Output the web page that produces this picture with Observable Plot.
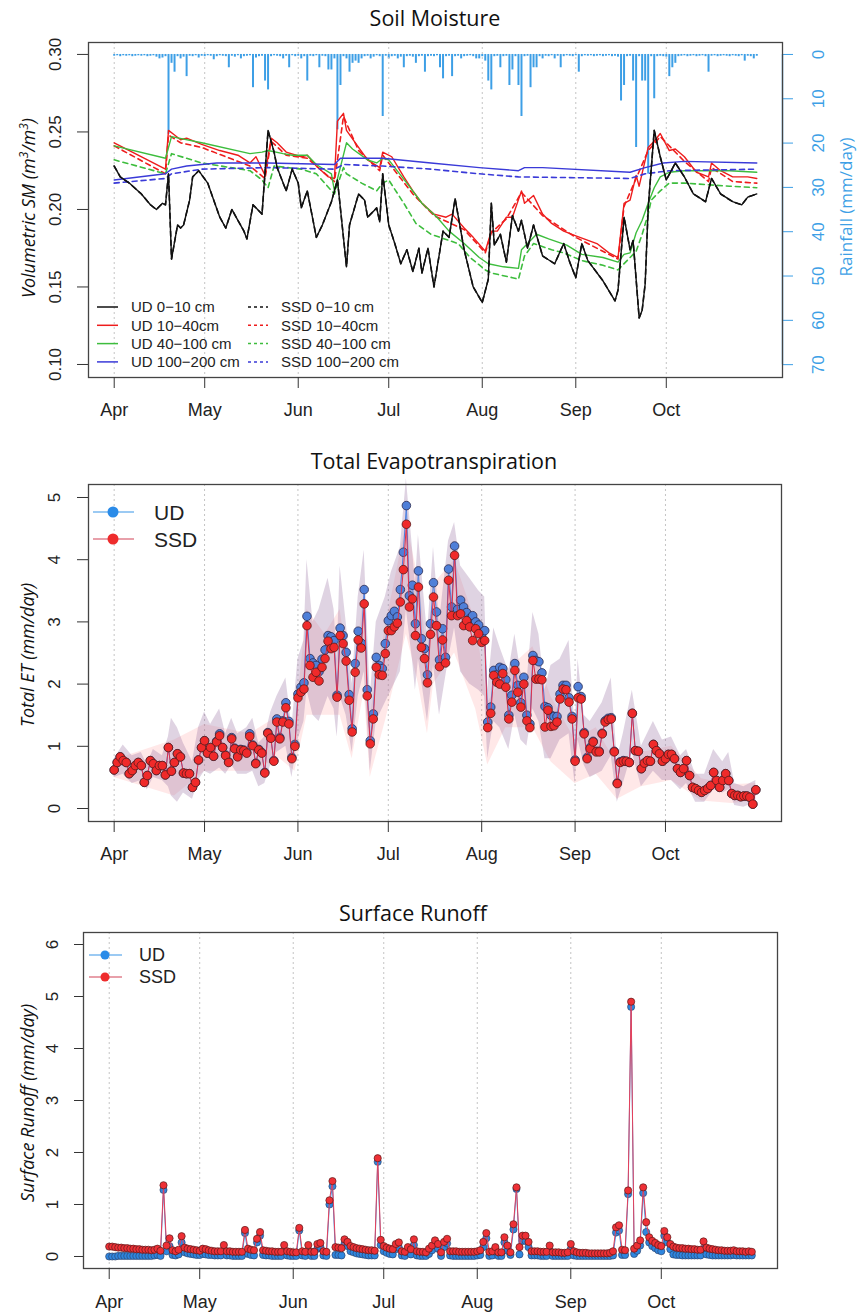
<!DOCTYPE html>
<html><head><meta charset="utf-8">
<script src="https://cdn.jsdelivr.net/npm/d3@7"></script>
<script src="https://cdn.jsdelivr.net/npm/@observablehq/plot@0.6"></script>
<style>
body{margin:0;background:#fff;}
#wrap{position:relative;width:859px;height:1316px;overflow:hidden;font-family:"Liberation Sans",Arial,sans-serif;}
#wrap svg{position:absolute;}
.title{position:absolute;font-family:"Open Sans",sans-serif;font-size:21.5px;color:#111;transform:translate(-50%,-50%);white-space:nowrap;}
.ylab{position:absolute;font-family:"Open Sans",sans-serif;font-style:italic;font-size:18px;color:#111;transform:translate(-50%,-50%) rotate(-90deg);white-space:nowrap;}
.ylab sup{font-size:12px;}
</style></head>
<body><div id="wrap"></div>
<script>
// ---------------- DATA ----------------
const startDate = "2019-04-01";
// Soil moisture series: [day since Apr 1, m3/m3]
const ud_0_10 = [[0,.228],[2,.221],[5,.217],[9,.21],[12,.203],[14,.2],[16,.204],[17,.203],[18,.223],[19,.168],[21,.19],[22,.188],[23,.19],[25,.206],[26,.221],[28,.225],[31,.217],[33,.206],[35,.195],[37,.188],[39,.2],[41,.193],[43,.186],[44,.181],[46,.203],[48,.199],[49,.197],[51,.251],[53,.237],[54,.227],[57,.212],[59,.226],[61,.217],[62,.201],[64,.212],[67,.182],[69,.19],[72,.205],[74,.219],[77,.163],[78,.19],[81,.21],[83,.206],[84,.195],[87,.201],[88,.192],[89,.223],[91,.19],[93,.178],[95,.165],[97,.174],[99,.16],[101,.175],[102,.159],[104,.175],[106,.15],[109,.186],[111,.182],[113,.207],[116,.174],[119,.15],[122,.14],[124,.155],[125,.204],[126,.177],[128,.184],[130,.166],[132,.196],[134,.186],[135,.193],[137,.175],[139,.19],[142,.17],[146,.165],[149,.178],[151,.166],[153,.156],[155,.178],[157,.167],[162,.154],[166,.141],[167,.148],[169,.195],[171,.174],[172,.18],[174,.13],[175,.135],[176,.152],[177,.201],[179,.251],[181,.234],[183,.219],[186,.23],[189,.221],[192,.21],[196,.205],[198,.22],[201,.21],[205,.205],[208,.203],[210,.208],[213,.21]];
const ssd_0_10 = ud_0_10; // the two 0-10 cm curves coincide in the figure
const ud_10_40 = [[0,.243],[17,.226],[18,.251],[20,.248],[22,.245],[24,.246],[29,.242],[35,.238],[41,.235],[45,.230],[47,.234],[50,.222],[52,.246],[54,.243],[57,.237],[62,.234],[64,.235],[67,.228],[71,.221],[73,.220],[74,.257],[76,.262],[77,.251],[81,.240],[84,.232],[88,.227],[89,.237],[92,.234],[96,.221],[99,.212],[102,.204],[106,.197],[110,.195],[112,.197],[116,.188],[119,.182],[123,.173],[125,.186],[127,.186],[130,.195],[132,.195],[135,.212],[136,.204],[139,.209],[142,.197],[145,.191],[149,.186],[153,.183],[160,.178],[164,.172],[167,.169],[169,.204],[171,.206],[173,.222],[174,.215],[177,.240],[179,.244],[181,.249],[184,.238],[186,.239],[189,.234],[193,.224],[197,.221],[198,.230],[201,.225],[205,.221],[210,.221],[213,.220]];
const ssd_10_40 = [[0,.241],[17,.223],[18,.248],[22,.243],[29,.240],[45,.228],[50,.220],[52,.244],[57,.235],[64,.233],[73,.218],[76,.260],[81,.238],[88,.225],[89,.235],[99,.210],[106,.196],[116,.187],[123,.172],[125,.185],[130,.194],[135,.211],[142,.196],[153,.182],[167,.168],[169,.202],[173,.220],[177,.238],[181,.247],[189,.231],[197,.218],[198,.227],[205,.218],[213,.217]];
const ud_40_100 = [[0,.241],[17,.233],[19,.247],[29,.243],[45,.236],[49,.237],[51,.238],[56,.236],[59,.235],[64,.235],[67,.229],[72,.223],[73,.212],[77,.243],[79,.239],[84,.232],[87,.230],[89,.233],[91,.232],[97,.217],[102,.204],[107,.195],[111,.186],[116,.178],[121,.169],[124,.165],[129,.163],[134,.162],[135,.174],[140,.184],[144,.181],[150,.177],[155,.171],[162,.169],[167,.166],[169,.171],[171,.172],[173,.185],[175,.193],[177,.204],[179,.214],[181,.221],[184,.224],[189,.225],[204,.225],[213,.224]];
const ssd_40_100 = [[0,.232],[17,.223],[19,.236],[29,.230],[45,.225],[49,.219],[51,.214],[53,.228],[62,.226],[67,.223],[73,.210],[76,.227],[77,.223],[82,.217],[87,.212],[89,.217],[91,.219],[96,.204],[100,.191],[105,.184],[114,.178],[118,.169],[123,.161],[125,.159],[132,.156],[134,.155],[136,.170],[139,.178],[145,.174],[149,.172],[155,.167],[162,.164],[167,.161],[170,.167],[173,.173],[175,.184],[177,.197],[178,.206],[181,.212],[184,.217],[189,.217],[204,.215],[213,.214]];
const ud_100_200 = [[0,.219],[17,.223],[19,.226],[24,.228],[34,.230],[51,.230],[73,.229],[75,.233],[89,.233],[105,.230],[121,.227],[134,.225],[136,.227],[142,.227],[171,.224],[176,.227],[182,.230],[189,.231],[213,.230]];
const ssd_100_200 = [[0,.217],[17,.220],[19,.223],[29,.226],[51,.227],[73,.226],[76,.229],[89,.228],[105,.226],[121,.223],[134,.221],[171,.220],[176,.223],[184,.225],[213,.226]];
const smTicks = [0.10, 0.15, 0.20, 0.25, 0.30];

// Daily rainfall (mm/day), Apr 1 .. Oct 31
const rain = [
0.4,0.3,0.5,0.3,0.4,0.3,0.5,0.4,0.3,0.4,
0.3,0.5,0.4,0.3,0.6,1.0,0.8,0.5,18,2,
4,0.5,1,0.6,5,0.4,0.5,0.3,0.8,0.4,
0.5,0.3,0.4,1.2,0.5,0.3,0.4,0.5,3,0.4,
0.6,0.3,1,0.5,0.4,0.3,7.5,0.8,0.5,0.4,
6,8,0.5,0.3,0.4,0.5,1,0.4,3,0.3,
0.5,0.4,1,0.5,6,0.4,0.5,0.3,3,0.4,
0.5,3.5,3.5,1,17,7,0.5,1,4,2,
1.5,2,1,0.5,0.4,1,0.6,0.3,0.5,14,
0.4,1,0.5,0.4,1,0.6,3,0.5,0.4,0.6,
2,0.5,0.4,4,0.5,0.4,0.5,0.3,3,5.5,
0.5,0.4,5,0.5,0.4,1,0.5,0.4,0.3,0.5,
1,1,0.5,1.5,6,8,0.5,0.4,3,0.5,
0.4,7,3.5,0.5,7,14,0.5,0.4,7.5,3,
3,0.5,1,0.4,0.5,0.3,1,0.4,3,0.5,
0.3,0.4,0.5,0.3,4,0.5,0.3,0.4,0.3,0.5,
0.4,0.3,0.5,0.4,0.3,0.5,0.4,0.6,10.5,7,
0.5,0.4,6,21,0.5,6,6,27,0.5,10,
0.5,0.4,0.5,0.6,5,3,2,0.5,0.4,0.3,
0.5,0.4,0.3,0.5,0.4,0.3,0.5,4,0.4,0.3,
0.5,0.4,0.3,0.4,0.5,0.3,0.4,0.5,0.3,1.5,
0.4,0.5,1,0.4];
const rainTicks = [0,10,20,30,40,50,60,70];

// Total ET (mm/day), daily Apr 1 .. Oct 31
const etUD = [
0.62,0.74,0.83,0.77,0.74,0.56,0.61,0.69,0.74,0.69,
0.42,0.53,0.77,0.72,0.61,0.69,0.69,0.54,0.98,0.60,
0.74,0.88,0.83,0.57,0.56,0.56,0.34,0.42,0.78,0.98,
1.09,0.89,0.98,0.84,1.08,1.20,0.98,0.86,0.75,1.14,
0.97,0.84,0.95,0.94,0.90,1.20,1.02,0.73,0.95,0.90,
0.58,1.22,1.14,0.77,1.44,1.14,1.41,1.70,1.40,0.82,
1.03,1.84,1.95,2.02,3.09,2.41,2.34,2.30,2.20,2.40,
2.55,2.78,2.76,2.70,1.82,2.90,2.78,2.51,1.83,1.28,
2.33,2.85,2.66,3.52,1.91,1.09,1.52,2.43,2.30,2.25,
2.65,3.02,3.10,3.17,3.08,3.52,4.12,4.87,3.42,3.59,
2.97,3.82,2.73,2.57,2.15,2.97,3.63,3.16,2.39,2.89,
2.43,3.85,3.24,4.22,3.20,3.35,3.24,3.15,3.05,3.10,
3.00,2.95,2.80,2.86,1.39,1.63,2.22,2.15,2.27,2.25,
2.07,1.50,1.82,2.33,1.98,1.70,2.11,1.50,1.36,2.46,
2.38,2.36,2.18,1.64,1.62,1.50,1.48,1.48,1.84,1.98,
1.98,1.78,1.48,0.78,1.96,1.80,1.22,0.82,0.98,1.08,
0.92,0.92,1.21,1.41,1.45,1.46,0.92,0.41,0.75,0.77,
0.76,0.74,1.53,0.93,0.92,0.64,0.73,0.77,0.76,1.03,
0.93,0.88,0.76,0.80,0.87,0.87,0.80,0.64,0.58,0.64,
0.77,0.53,0.34,0.32,0.29,0.26,0.29,0.32,0.37,0.58,
0.45,0.34,0.45,0.56,0.45,0.24,0.21,0.21,0.19,0.20,
0.20,0.18,0.07,0.30];
const etSSD = [
0.62,0.74,0.83,0.77,0.74,0.56,0.61,0.69,0.74,0.69,
0.42,0.53,0.77,0.72,0.61,0.69,0.69,0.54,0.98,0.60,
0.74,0.88,0.83,0.57,0.56,0.56,0.34,0.42,0.78,0.98,
1.09,0.89,0.98,0.84,1.07,1.17,0.98,0.85,0.74,1.12,
0.96,0.83,0.94,0.93,0.89,1.16,1.01,0.72,0.94,0.89,
0.57,1.21,1.13,0.76,1.39,1.12,1.39,1.62,1.36,0.80,
1.00,1.78,1.87,1.92,2.94,2.30,2.11,2.19,2.05,2.27,
2.41,2.69,2.57,2.59,1.79,2.78,2.65,2.37,1.74,1.23,
2.19,2.71,2.58,3.29,1.81,1.04,1.44,2.27,2.15,2.14,
2.49,2.86,2.86,2.92,2.98,3.32,3.84,4.57,3.24,3.37,
2.78,3.56,2.59,2.41,2.02,2.80,3.40,2.94,2.28,2.71,
2.34,3.67,3.10,4.07,3.10,3.13,2.94,3.02,2.92,2.70,
2.89,2.81,2.67,2.70,1.30,1.53,2.14,2.03,2.00,2.17,
1.95,1.44,1.71,2.22,1.87,1.63,2.00,1.41,1.30,2.38,
2.08,2.08,2.07,1.31,1.58,1.32,1.33,1.39,1.76,1.92,
1.91,1.71,1.44,0.76,1.78,1.76,1.20,0.80,0.96,1.07,
0.91,0.91,1.20,1.39,1.43,1.44,0.91,0.40,0.74,0.76,
0.76,0.74,1.53,0.93,0.92,0.64,0.73,0.77,0.76,1.03,
0.93,0.88,0.76,0.80,0.87,0.87,0.80,0.64,0.58,0.64,
0.77,0.53,0.34,0.32,0.29,0.26,0.29,0.32,0.37,0.58,
0.45,0.34,0.45,0.56,0.45,0.24,0.21,0.21,0.19,0.20,
0.20,0.18,0.07,0.30];
// ET uncertainty bands
const udBandDays = [0,3,6,9,11,13,16,18,19,21,23,26,28,30,32,35,37,39,41,44,46,48,50,52,54,57,59,61,63,64,66,68,71,73,74,75,77,79,81,83,85,87,90,92,95,97,99,100,101,104,106,108,111,113,115,118,121,123,124,126,128,131,133,135,137,139,141,143,145,148,151,153,154,156,158,162,165,167,169,172,175,179,182,185,188,190,193,196,199,202,204,206,209,213];
const udBandLo = [0.50,0.55,0.40,0.45,0.30,0.50,0.45,0.35,0.20,0.10,0.25,0.15,0.45,0.60,0.55,0.65,0.55,0.70,0.55,0.55,0.60,0.35,0.40,0.70,0.90,1.00,0.50,1.10,1.40,1.90,1.50,1.40,1.80,1.60,1.15,1.80,1.50,0.90,1.80,2.20,0.60,1.40,1.70,1.90,2.20,3.20,2.40,1.90,2.40,1.40,2.30,1.50,2.40,2.90,2.20,2.00,1.90,1.80,0.80,1.40,1.30,0.95,1.50,1.10,1.00,1.60,1.40,0.80,0.80,1.10,1.20,0.40,1.10,0.70,0.50,0.60,0.85,0.10,0.40,0.90,0.35,0.60,0.45,0.45,0.30,0.40,0.10,0.10,0.30,0.25,0.30,0.05,0.02,0.10];
const udBandHi = [0.80,1.02,0.85,0.90,0.70,0.95,0.85,1.15,1.45,1.30,1.05,0.75,1.30,1.55,1.35,1.60,1.20,1.45,1.20,1.30,1.45,1.05,1.15,1.55,1.80,2.10,1.30,2.40,2.70,4.00,3.00,3.20,3.70,3.20,2.40,3.90,3.00,2.00,3.40,4.15,1.80,3.00,3.40,3.80,4.20,5.30,4.20,3.60,4.40,2.80,4.20,3.00,4.30,4.60,3.90,3.70,3.50,3.40,1.90,2.90,2.60,2.20,2.80,2.20,2.00,3.15,2.80,1.90,2.30,2.40,2.70,1.30,2.40,1.50,1.40,1.70,2.10,0.80,1.20,1.90,1.00,1.40,1.10,1.15,0.85,0.95,0.55,0.55,0.95,0.75,0.90,0.40,0.35,0.45];
const ssdBandDays = [0,20,30,45,55,60,64,70,75,79,83,85,90,97,101,104,106,113,120,124,130,139,145,153,160,167,175,185,195,205,213];
const ssdBandLo = [0.50,0.20,0.60,0.60,0.80,0.60,1.50,1.50,1.50,0.80,1.90,0.50,1.40,2.80,2.00,1.20,2.00,2.50,1.60,0.70,1.30,1.30,0.75,0.40,0.55,0.15,0.35,0.45,0.12,0.08,0.12];
const ssdBandHi = [0.78,1.10,1.35,1.20,1.50,1.30,3.20,2.80,3.20,1.80,3.50,1.50,2.90,4.60,3.70,2.50,3.60,4.00,3.00,1.70,2.20,2.60,1.80,1.10,1.30,0.70,0.90,1.00,0.48,0.38,0.40];
const etTicks = [0,1,2,3,4,5];

// Surface runoff (mm/day), daily Apr 1 .. Oct 31
const roUD = [
0.00,0.00,0.00,0.01,0.01,0.01,0.01,0.01,0.01,0.01,
0.01,0.01,0.01,0.01,0.01,0.02,0.03,0.01,1.28,0.10,
0.20,0.03,0.02,0.04,0.27,0.08,0.06,0.05,0.04,0.03,
0.03,0.05,0.04,0.03,0.03,0.02,0.02,0.02,0.12,0.02,
0.02,0.01,0.01,0.01,0.01,0.45,0.05,0.03,0.02,0.27,
0.40,0.03,0.02,0.02,0.01,0.01,0.01,0.01,0.12,0.02,
0.01,0.01,0.01,0.50,0.02,0.01,0.12,0.01,0.01,0.15,
0.18,0.02,0.01,1.00,1.35,0.03,0.03,0.02,0.24,0.20,
0.10,0.08,0.06,0.05,0.04,0.03,0.02,0.02,0.02,1.82,
0.22,0.10,0.07,0.05,0.04,0.14,0.17,0.02,0.01,0.08,
0.04,0.22,0.02,0.01,0.01,0.01,0.05,0.12,0.22,0.15,
0.01,0.18,0.25,0.02,0.01,0.01,0.01,0.01,0.01,0.01,
0.01,0.01,0.02,0.03,0.18,0.35,0.01,0.02,0.09,0.01,
0.01,0.27,0.11,0.03,0.52,1.30,0.04,0.30,0.30,0.18,
0.02,0.02,0.02,0.01,0.01,0.01,0.11,0.01,0.01,0.01,
0.01,0.01,0.01,0.14,0.02,0.01,0.01,0.01,0.01,0.01,
0.01,0.01,0.01,0.01,0.01,0.01,0.01,0.02,0.46,0.50,
0.03,0.03,1.20,4.80,0.05,0.11,0.21,1.22,0.47,0.27,
0.20,0.16,0.12,0.10,0.40,0.27,0.14,0.04,0.03,0.03,
0.02,0.02,0.02,0.02,0.02,0.02,0.02,0.15,0.04,0.03,
0.02,0.02,0.02,0.02,0.02,0.02,0.02,0.03,0.02,0.02,
0.02,0.02,0.02,0.02];
const roSSD = [
0.19,0.19,0.18,0.17,0.17,0.16,0.16,0.15,0.15,0.14,
0.14,0.13,0.13,0.13,0.12,0.13,0.15,0.11,1.37,0.21,
0.35,0.12,0.10,0.13,0.39,0.17,0.15,0.14,0.13,0.12,
0.11,0.15,0.14,0.12,0.11,0.10,0.10,0.10,0.22,0.10,
0.10,0.09,0.09,0.09,0.09,0.51,0.15,0.13,0.12,0.34,
0.47,0.12,0.11,0.10,0.10,0.09,0.09,0.09,0.22,0.10,
0.09,0.08,0.08,0.55,0.10,0.09,0.22,0.09,0.09,0.24,
0.26,0.10,0.09,1.08,1.45,0.18,0.17,0.16,0.33,0.28,
0.20,0.18,0.16,0.15,0.14,0.13,0.12,0.12,0.11,1.89,
0.32,0.20,0.17,0.15,0.14,0.24,0.27,0.10,0.09,0.18,
0.14,0.33,0.10,0.09,0.09,0.08,0.15,0.21,0.31,0.24,
0.08,0.28,0.34,0.10,0.10,0.10,0.09,0.09,0.09,0.09,
0.09,0.09,0.10,0.12,0.28,0.45,0.09,0.10,0.18,0.08,
0.08,0.37,0.21,0.08,0.62,1.33,0.18,0.40,0.40,0.28,
0.10,0.10,0.10,0.09,0.09,0.09,0.21,0.08,0.08,0.08,
0.07,0.07,0.08,0.24,0.10,0.08,0.07,0.07,0.07,0.06,
0.06,0.06,0.06,0.06,0.06,0.06,0.07,0.10,0.56,0.60,
0.13,0.12,1.27,4.90,0.15,0.21,0.31,1.33,0.66,0.37,
0.30,0.26,0.22,0.20,0.49,0.37,0.24,0.19,0.17,0.16,
0.16,0.15,0.15,0.14,0.14,0.13,0.13,0.29,0.17,0.15,
0.14,0.13,0.12,0.12,0.11,0.11,0.11,0.12,0.10,0.10,
0.10,0.09,0.10,0.09];
const roTicks = [0,1,2,3,4,5,6];

// ---------------- HELPERS ----------------
const DAY = 864e5, T0 = Date.parse(startDate + "T00:00:00Z");
const day = d => new Date(T0 + d * DAY);
const xDomain = [day(-8.52), day(221.52)];
const months = d3.utcMonth.range(day(0), day(184));
const fmtMonth = d3.utcFormat("%b");
const FONT = '"Liberation Sans", Arial, sans-serif';
const RAIN = "#3d9fe6";
const RED = "#ee1c1c", GREEN = "#3dbd3d", BLUE = "#3a3ad8";
const baseStyle = {fontFamily: FONT, fontSize: "17px", color: "#222", background: "transparent", overflow: "visible"};
const wrap = document.getElementById("wrap");

function place(svg, top) { svg.style.left = "0px"; svg.style.top = top + "px"; wrap.appendChild(svg); return svg; }
function html(str) { const d = document.createElement("div"); d.innerHTML = str; while (d.firstChild) wrap.appendChild(d.firstChild); }
const grid = () => Plot.ruleX(months, {stroke: "#c4c4c4", strokeDasharray: "2,3", strokeWidth: 1});
const xAxis = (pad) => Plot.axisX({ticks: months, tickFormat: fmtMonth, tickSize: 11, tickPadding: pad, label: null, stroke: "#333", fontSize: 18, fill: "#222"});
// y axis: tick marks from the axis, rotated labels (R style) as text marks
const yTicksMarks = (ticks, size, anchor = "left", color = "#333") =>
  Plot.axisY({anchor, ticks, tickSize: size, tickFormat: () => "", label: null, stroke: color});
const yTickLabels = (ticks, fmt, dx, anchor = "left", color = "#222") =>
  Plot.text(ticks, {y: d => d, text: fmt, frameAnchor: anchor, dx, rotate: -90, fill: color, fontSize: 17, lineAnchor: "middle", textAnchor: "middle"});

// ---------------- PANEL 1: SOIL MOISTURE ----------------
const m1 = {width: 859, height: 430, marginTop: 42, marginBottom: 53, marginLeft: 88, marginRight: 77};
const rainRows = rain.map((v, i) => ({date: day(i), mm: v})).filter(d => d.mm > 0);
place(Plot.plot({
  ...m1, style: baseStyle,
  x: {type: "utc", domain: xDomain, axis: null},
  y: {domain: [-2.7, 72.9], reverse: true},
  marks: [
    Plot.ruleX(rainRows, {x: "date", y1: 0, y2: "mm", stroke: RAIN, strokeWidth: 2}),
    Plot.ruleX([xDomain[1]], {y1: 0, y2: 70, stroke: RAIN, strokeWidth: 1.4}),
    yTicksMarks(rainTicks, 10, "right", RAIN),
    yTickLabels(rainTicks, d => String(d), 36, "right", RAIN)
  ]
}), 0);

const smLine = (arr, stroke, dash) => Plot.line(arr, {x: d => day(d[0]), y: d => d[1], stroke, strokeWidth: dash ? 1.6 : 1.4, strokeDasharray: dash});
place(Plot.plot({
  ...m1, style: baseStyle,
  x: {type: "utc", domain: xDomain},
  y: {domain: [0.0916, 0.3077]},
  marks: [
    grid(),
    smLine(ud_10_40, RED), smLine(ssd_10_40, RED, "5,4"),
    smLine(ud_40_100, GREEN), smLine(ssd_40_100, GREEN, "5,4"),
    smLine(ud_100_200, BLUE), smLine(ssd_100_200, BLUE, "5,4"),
    smLine(ud_0_10, "#111"), smLine(ssd_0_10, "#111", "5,4"),
    Plot.frame({stroke: "#444", strokeWidth: 1.3}),
    xAxis(15),
    yTicksMarks(smTicks, 11),
    yTickLabels(smTicks, d3.format(".2f"), -33)
  ]
}), 0);

// ---------------- PANEL 2: TOTAL ET ----------------
const etRows = etUD.map((v, i) => ({date: day(i), ud: v, ssd: etSSD[i]}));
const udBand = udBandDays.map((d, i) => ({date: day(d), lo: udBandLo[i], hi: udBandHi[i]}));
const ssdBand = ssdBandDays.map((d, i) => ({date: day(d), lo: ssdBandLo[i], hi: ssdBandHi[i]}));
place(Plot.plot({
  width: 859, height: 440, marginTop: 44, marginBottom: 59, marginLeft: 88, marginRight: 78,
  style: baseStyle,
  x: {type: "utc", domain: xDomain},
  y: {domain: [-0.209, 5.209]},
  marks: [
    grid(),
    Plot.areaY(ssdBand, {x: "date", y1: "lo", y2: "hi", fill: "rgb(255,150,150)", fillOpacity: 0.22}),
    Plot.areaY(udBand, {x: "date", y1: "lo", y2: "hi", fill: "rgb(150,110,160)", fillOpacity: 0.3}),
    Plot.line(etRows, {x: "date", y: "ud", stroke: "#4a7fe0", strokeWidth: 1}),
    Plot.dot(etRows, {x: "date", y: "ud", r: 4.3, fill: "#4f7fd8", stroke: "#2b2b50", strokeWidth: 0.8}),
    Plot.line(etRows, {x: "date", y: "ssd", stroke: "#e0304a", strokeWidth: 1}),
    Plot.dot(etRows, {x: "date", y: "ssd", r: 4.3, fill: "#f02a2a", stroke: "#5a1a1a", strokeWidth: 0.8}),
    Plot.frame({stroke: "#444", strokeWidth: 1.3}),
    xAxis(15),
    yTicksMarks(etTicks, 11),
    yTickLabels(etTicks, d => String(d), -34)
  ]
}), 440);

// ---------------- PANEL 3: SURFACE RUNOFF ----------------
const roRows = roUD.map((v, i) => ({date: day(i), ud: v, ssd: roSSD[i]}));
place(Plot.plot({
  width: 859, height: 426, marginTop: 42, marginBottom: 48, marginLeft: 83, marginRight: 82,
  style: baseStyle,
  x: {type: "utc", domain: xDomain},
  y: {domain: [-0.231, 6.231]},
  marks: [
    grid(),
    Plot.line(roRows, {x: "date", y: "ud", stroke: "#3a8ee0", strokeWidth: 1}),
    Plot.dot(roRows, {x: "date", y: "ud", r: 3.6, fill: "#2f86de", stroke: "#2b3b60", strokeWidth: 0.6}),
    Plot.line(roRows, {x: "date", y: "ssd", stroke: "#e8405a", strokeWidth: 1}),
    Plot.dot(roRows, {x: "date", y: "ssd", r: 3.6, fill: "#ee3036", stroke: "#5a1a1a", strokeWidth: 0.7}),
    Plot.frame({stroke: "#444", strokeWidth: 1.3}),
    xAxis(16),
    yTicksMarks(roTicks, 9),
    yTickLabels(roTicks, d => String(d), -31)
  ]
}), 890);

// ---------------- TITLES, AXIS LABELS, LEGENDS ----------------
html(`
<div class="title" style="left:435px;top:17px">Soil Moisture</div>
<div class="title" style="left:434px;top:460px">Total Evapotranspiration</div>
<div class="title" style="left:413px;top:912px">Surface Runoff</div>
<div class="ylab" style="left:27px;top:208px">Volumetric SM (m<sup>3</sup>/m<sup>3</sup>)</div>
<div class="ylab" style="left:845px;top:207px;font-style:normal;font-size:17px;color:${RAIN}">Rainfall (mm/day)</div>
<div class="ylab" style="left:27px;top:655px">Total ET (mm/day)</div>
<div class="ylab" style="left:27px;top:1103px">Surface Runoff (mm/day)</div>
`);

const smLegend = [
  ["UD 0\u221210 cm", "#111", null, "SSD 0\u221210 cm", "#111"],
  ["UD 10\u221240cm", RED, null, "SSD 10\u221240cm", RED],
  ["UD 40\u2212100 cm", GREEN, null, "SSD 40\u2212100 cm", GREEN],
  ["UD 100\u2212200 cm", BLUE, null, "SSD 100\u2212200 cm", BLUE]
];
const ns = "http://www.w3.org/2000/svg";
function legendSvg(left, top, w, h, build) {
  const s = document.createElementNS(ns, "svg");
  s.setAttribute("width", w); s.setAttribute("height", h);
  s.style.left = left + "px"; s.style.top = top + "px";
  s.innerHTML = build; wrap.appendChild(s);
}
legendSvg(90, 296, 320, 76, smLegend.map((r, i) => {
  const y = 11 + i * 18.3;
  return `<line x1="7" x2="28" y1="${y}" y2="${y}" stroke="${r[1]}" stroke-width="1.5"/>
  <text x="41" y="${y}" dy="0.35em" font-family='${FONT}' font-size="15" fill="#222">${r[0]}</text>
  <line x1="158" x2="178" y1="${y}" y2="${y}" stroke="${r[4]}" stroke-width="1.5" stroke-dasharray="3,3"/>
  <text x="191" y="${y}" dy="0.35em" font-family='${FONT}' font-size="15" fill="#222">${r[3]}</text>`;
}).join(""));
legendSvg(88, 496, 130, 60, `
  <line x1="5" x2="46" y1="16" y2="16" stroke="#7ab8ef" stroke-width="1.5"/><circle cx="25" cy="16" r="5.5" fill="#2a8be8"/>
  <text x="66" y="16" dy="0.36em" font-family='${FONT}' font-size="21" fill="#222">UD</text>
  <line x1="5" x2="46" y1="43" y2="43" stroke="#e0808e" stroke-width="1.5"/><circle cx="25" cy="43" r="5.5" fill="#ee2c2c"/>
  <text x="66" y="43" dy="0.36em" font-family='${FONT}' font-size="21" fill="#222">SSD</text>`);
legendSvg(83, 943, 130, 46, `
  <line x1="6" x2="39" y1="12" y2="12" stroke="#7ab8ef" stroke-width="1.5"/><circle cx="22" cy="12" r="4.5" fill="#2a8be8"/>
  <text x="56" y="12" dy="0.36em" font-family='${FONT}' font-size="18" fill="#222">UD</text>
  <line x1="6" x2="39" y1="34" y2="34" stroke="#e0808e" stroke-width="1.5"/><circle cx="22" cy="34" r="4.5" fill="#ee2c2c"/>
  <text x="56" y="34" dy="0.36em" font-family='${FONT}' font-size="18" fill="#222">SSD</text>`);
</script>
</body></html>
